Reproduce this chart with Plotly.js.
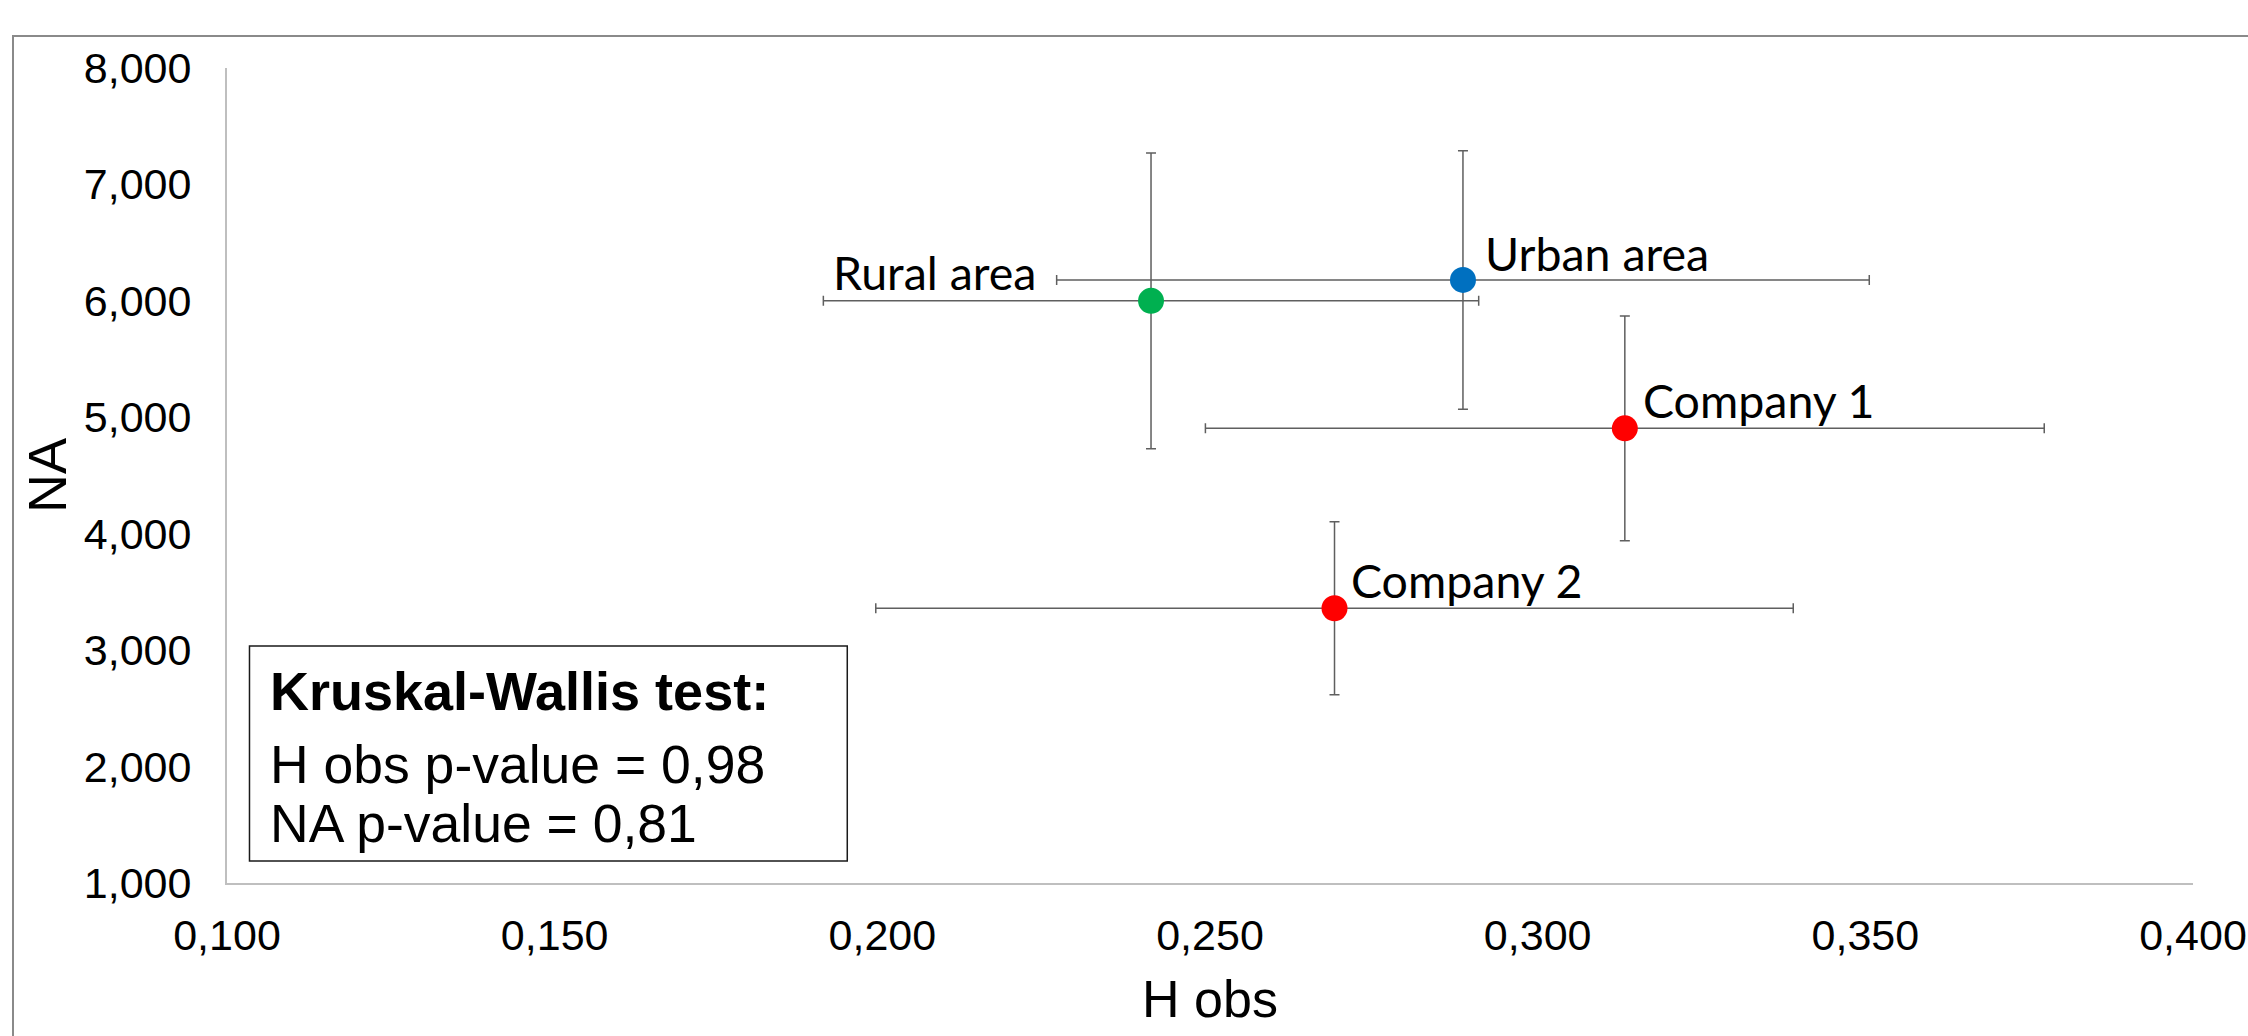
<!DOCTYPE html>
<html>
<head>
<meta charset="utf-8">
<script src="https://cdn.plot.ly/plotly-3.0.1.min.js"></script>
<style>
  html, body { margin: 0; padding: 0; background: #ffffff; overflow: hidden; }
  #wrap { position: relative; width: 2248px; height: 1036px; }
  #chart { position: absolute; left: 0; top: 0; width: 2248px; height: 1036px; }
  #frame { position: absolute; left: 12px; top: 35px; width: 2300px; height: 1100px;
           border-left: 2px solid #8a8a8a; border-top: 2px solid #8a8a8a; pointer-events: none; }
</style>
</head>
<body>
<div id="wrap">
  <div id="chart"></div>
  <div id="frame"></div>
</div>
<script>
// ---- data ----
const groups   = ['Rural area', 'Urban area', 'Company 1', 'Company 2'];
const hObs     = [0.241, 0.2886, 0.3133, 0.269];
const hObsErr  = [0.050, 0.062, 0.064, 0.070];
const naVals   = [6000, 6180, 4905, 3360];
const naErr    = [1270, 1110, 966, 743];

const xTickVals = [0.10, 0.15, 0.20, 0.25, 0.30, 0.35, 0.40];
const xTickText = ['0,100', '0,150', '0,200', '0,250', '0,300', '0,350', '0,400'];
const yTickVals = [1000, 2000, 3000, 4000, 5000, 6000, 7000, 8000];
const yTickText = ['1,000', '2,000', '3,000', '4,000', '5,000', '6,000', '7,000', '8,000'];

const statsTitle = 'Kruskal-Wallis test:';
const statsLines = ['H obs p-value = 0,98', 'NA p-value = 0,81'];

// ---- styles ----
const pointColors = ['#00B050', '#0070C0', '#FF0000', '#FF0000'];
const labelStyle = [
  { xanchor: 'right', xshift: -113, yshift: 29 },
  { xanchor: 'left',  xshift: 20,   yshift: 27 },
  { xanchor: 'left',  xshift: 16,   yshift: 28 },
  { xanchor: 'left',  xshift: 14,   yshift: 28 }
];
const ARIAL = 'Liberation Sans, Arial, sans-serif';
const LABEL_FONT = 'Lato, Carlito, Calibri, sans-serif';

const trace = {
  type: 'scatter', mode: 'markers', x: hObs, y: naVals, text: groups,
  hoverinfo: 'text+x+y',
  marker: { size: 26, color: pointColors, line: { width: 0 } },
  error_x: { type: 'data', array: hObsErr, visible: true, color: '#5f5f5f', thickness: 1.5, width: 5 },
  error_y: { type: 'data', array: naErr, visible: true, color: '#5f5f5f', thickness: 1.5, width: 5 },
  showlegend: false
};

const annotations = groups.map((g, i) => ({
  x: hObs[i], y: naVals[i], xref: 'x', yref: 'y', text: g, showarrow: false,
  xanchor: labelStyle[i].xanchor, yanchor: 'middle',
  xshift: labelStyle[i].xshift, yshift: labelStyle[i].yshift,
  font: { family: LABEL_FONT, size: 46.5, color: '#000000' }
}));
annotations.push({
  xref: 'paper', yref: 'paper', x: 0.0211, y: 0.2356, xanchor: 'left', yanchor: 'middle', showarrow: false,
  text: '<b>' + statsTitle + '</b>', font: { family: ARIAL, size: 54, color: '#000000' }
});
const statsY = [0.1448, 0.0736];
statsLines.forEach((t, i) => annotations.push({
  xref: 'paper', yref: 'paper', x: 0.0211, y: statsY[i], xanchor: 'left', yanchor: 'middle', showarrow: false,
  text: t, font: { family: ARIAL, size: 53.5, color: '#000000' }
}));

const layout = {
  width: 2248, height: 1036,
  margin: { l: 227, r: 55, t: 68, b: 153, pad: 0 },
  paper_bgcolor: 'rgba(0,0,0,0)', plot_bgcolor: '#ffffff',
  font: { family: ARIAL, color: '#000000' },
  xaxis: {
    range: [0.1, 0.4], tickvals: xTickVals, ticktext: xTickText,
    showgrid: false, zeroline: false, showline: true, linecolor: '#bfbfbf', linewidth: 2,
    ticks: '', ticklabelstandoff: 13, tickfont: { family: ARIAL, size: 43, color: '#000000' },
    title: { text: 'H obs', font: { family: ARIAL, size: 52, color: '#000000' }, standoff: 22.6 }
  },
  yaxis: {
    range: [1000, 8000], tickvals: yTickVals, ticktext: yTickText,
    showgrid: false, zeroline: false, showline: true, linecolor: '#bfbfbf', linewidth: 2,
    ticks: '', ticklabelstandoff: 25, tickfont: { family: ARIAL, size: 43, color: '#000000' },
    title: { text: 'NA', font: { family: ARIAL, size: 54, color: '#000000' }, standoff: 0 }
  },
  shapes: [{ type: 'rect', xref: 'paper', yref: 'paper', x0: 0.01144, x1: 0.3155, y0: 0.027, y1: 0.2908,
    line: { color: '#1a1a1a', width: 1.5 }, fillcolor: '#ffffff', layer: 'above' }],
  annotations: annotations
};

Plotly.newPlot('chart', [trace], layout, { displayModeBar: false, staticPlot: true });
</script>
</body>
</html>
